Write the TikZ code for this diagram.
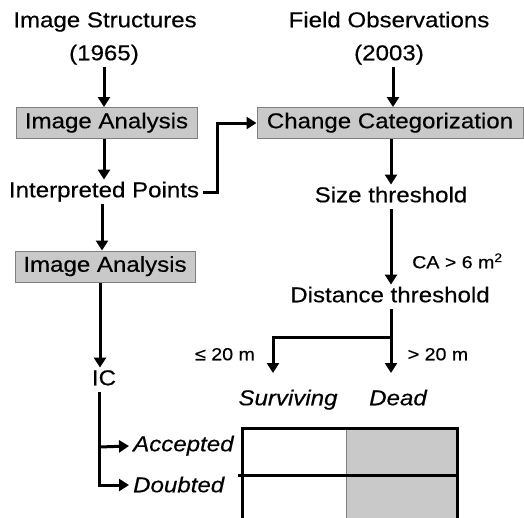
\documentclass[tikz,border=0pt]{standalone}
\usepackage{fontspec}
\setmainfont[FakeStretch=1.12,FakeBold=0.4]{Liberation Sans}
\usetikzlibrary{arrows.meta}
\definecolor{boxgray}{HTML}{C9C9C9}
\definecolor{edgegray}{HTML}{808080}
\begin{document}
\begin{tikzpicture}[x=1pt,y=-1pt,
  every node/.style={font=\fontsize{21.5}{26}\selectfont},
  txt/.style={inner xsep=4pt,inner ysep=2pt,text height=15.5pt,text depth=5pt},
  small/.style={font=\fontsize{17.5}{21}\selectfont},
  slanted/.style={font=\fontsize{21.5}{26}\selectfont\itshape},
  procbox/.style={draw=edgegray,line width=1pt,fill=boxgray,inner sep=0pt,
    minimum height=31pt,text height=15.5pt,text depth=5pt},
  arr/.style={line width=3pt,-{Triangle[width=12pt,length=10pt]}},
  ln/.style={line width=3pt},
  frame/.style={line width=3pt}]
\useasboundingbox (0,0) rectangle (524,517);

% left column: 1965 image data
\node[txt] (is1) at (105,22) {Image Structures};
\node[txt] (is2) at (104,55) {(1965)};
\node[procbox,minimum width=181pt] (ia1) at (106.5,123) {Image Analysis};
\node[txt] (ip) at (104,192) {Interpreted Points};
\node[procbox,minimum width=180pt] (ia2) at (105,266.5) {Image Analysis};
\node[txt] (ic) at (104,380) {IC};
\node[txt,slanted,anchor=west,inner xsep=0pt] (acc) at (133,446) {Accepted};
\node[txt,slanted,anchor=west,inner xsep=0pt] (dou) at (133,487) {Doubted};

% right column: 2003 field data
\node[txt] (fo1) at (389,22) {Field Observations};
\node[txt] (fo2) at (389,55) {(2003)};
\node[procbox,minimum width=266pt] (cc) at (390,123) {Change Categorization};
\node[txt] (st) at (391,197) {Size threshold};
\node[txt] (dt) at (390,297) {Distance threshold};
\node[txt,small,anchor=west,inner xsep=0pt] (ca) at (412,263) {CA > 6 m\textsuperscript{2}};
\node[txt,small] (le) at (225,355) {≤ 20 m};
\node[txt,small] (gt) at (438,355) {> 20 m};
\node[txt,slanted] (sv) at (288,400) {Surviving};
\node[txt,slanted] (dd) at (398,400) {Dead};

% connector corners and tips
\coordinate (split) at (391,337);
\coordinate (svtip) at (273,373);
\coordinate (ddtip) at (391,373);
\coordinate (icacc) at (99,447);
\coordinate (icbot) at (99,485);

% vertical flow, left column
\draw[arr] (is2.south) -- (is2.south |- ia1.north);
\draw[arr] (ip.north |- ia1.south) -- (ip.north);
\draw[arr] ([xshift=-2pt]ip.south) -- ([xshift=-2pt]ip.south |- ia2.north);
\draw[arr] ([xshift=-4pt]ic.north |- ia2.south) -- ([xshift=-4pt]ic.north);
% vertical flow, right column
\draw[arr] ([xshift=4pt]fo2.south) -- ([xshift=4pt]fo2.south |- cc.north);
\draw[arr] (st.north |- cc.south) -- (st.north);
\draw[arr] (st.south) -- (st.south |- dt.north);
% interpreted points feed the change categorization
\draw[arr] (ip.east) -- ++(14,0) |- (cc.west);
% distance split
\draw[ln] (split |- dt.south) -- (split);
\draw[arr] (split) -- (ddtip);
\draw[arr] (split) -| (svtip);
% IC branches
\draw[ln] (icacc |- ic.south) -- (icacc);
\draw[arr] (icacc) -- ([xshift=-4pt]acc.west);
\draw[arr] (icacc) -- (icbot) -- ([xshift=-4pt]dou.west |- icbot);

% outcome table
\fill[boxgray] (346,428) rectangle (457,520);
\draw[edgegray,line width=1pt] (346,428) -- (346,520);
\draw[frame] (242,520) -- (242,428) -- (457,428) -- (457,520);
\draw[frame] (238,475) -- (457,475);
\end{tikzpicture}
\end{document}
